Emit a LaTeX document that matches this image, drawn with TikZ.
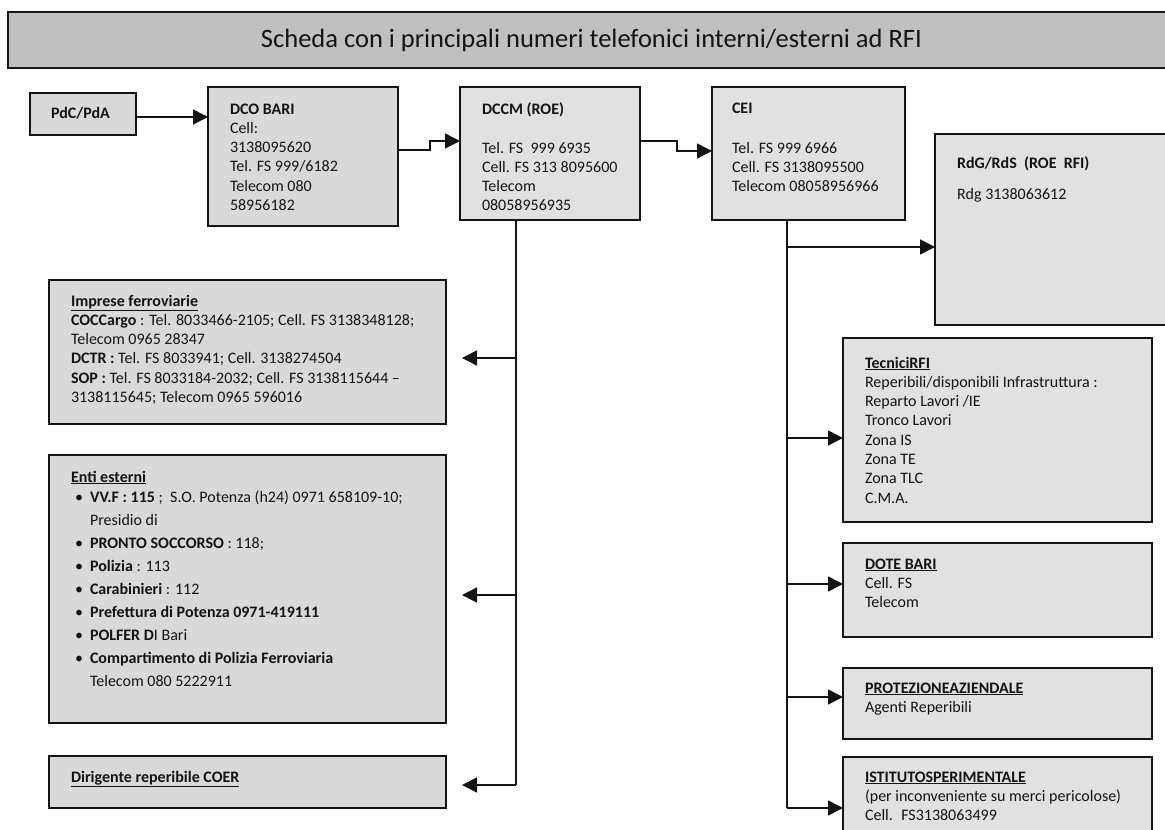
\documentclass[tikz,border=0pt]{standalone}
\usepackage{fontspec}
\setmainfont{Carlito}
\usetikzlibrary{arrows.meta,calc}
\definecolor{titlefill}{RGB}{192,192,192}
\definecolor{boxA}{RGB}{217,217,217}
\definecolor{boxB}{RGB}{225,225,225}
\definecolor{ink}{RGB}{20,20,20}
\newcommand{\mystrut}{\rule{0pt}{13pt}}
\newcommand{\bul}{\hspace*{4pt}\makebox[15pt][l]{\textbullet}}
\newcommand{\ind}{\hspace*{19pt}}
\tikzset{
  box/.style={draw=ink, line width=2pt, anchor=north west, inner sep=0pt, outer sep=0pt},
  txt/.style={anchor=north west, inner sep=0pt, outer sep=0pt, align=left,
    font=\fontsize{16}{19.3}\selectfont, text=ink},
  arr/.style={draw=ink, line width=1.6pt, -{Triangle[length=15pt,width=15pt]}},
  bus/.style={draw=ink, line width=1.6pt},
}
\begin{document}
\begin{tikzpicture}[x=1pt,y=-1pt]
\useasboundingbox (0,0) rectangle (1165,830);
\fill[white] (0,0) rectangle (1165,830);

% title
\node[box, fill=titlefill, minimum width=1200pt, minimum height=56pt] (title) at (8,12) {};
\node[anchor=base, inner sep=0pt, font=\fontsize{26.5}{30}\selectfont, text=ink] (titletxt) at (591.5,47)
  {Scheda con i principali numeri telefonici interni/esterni ad RFI};

% top row boxes
\node[box, fill=boxA, minimum width=106pt, minimum height=42pt] (pdc) at (30,93) {};
\node[txt] (pdct) at (51,105) {\mystrut\textbf{PdC/PdA}};

\node[box, fill=boxA, minimum width=190pt, minimum height=139pt] (dco) at (208,87) {};
\node[txt] (dcot) at (230,101) {\mystrut\textbf{DCO BARI}\\Cell:\\3138095620\\Tel. FS 999/6182\\Telecom 080\\58956182};

\node[box, fill=boxB, minimum width=180pt, minimum height=133pt] (dccm) at (460,87) {};
\node[txt] (dccmt) at (482,101) {\mystrut\textbf{DCCM (ROE)}\\[19.7pt]Tel. FS~ 999 6935\\Cell. FS 313 8095600\\Telecom\\08058956935};

\node[box, fill=boxB, minimum width=193pt, minimum height=133pt] (cei) at (712,87) {};
\node[txt] (ceit) at (732,100) {\mystrut\textbf{CEI}\\[20.7pt]Tel. FS 999 6966\\Cell. FS 3138095500\\Telecom 08058956966};

\node[box, fill=boxB, minimum width=260pt, minimum height=191pt] (rdg) at (935,134) {};
\node[txt] (rdgt) at (957,155) {\mystrut\textbf{RdG/RdS~ (ROE~ RFI)}\\[11.7pt]Rdg 3138063612};

% left column
\node[box, fill=boxA, minimum width=397pt, minimum height=144pt] (imp) at (49,280) {};
\node[txt] (impt) at (71,293) {\mystrut\textbf{\underline{Imprese ferroviarie}}\\
\textbf{COCCargo} : Tel. 8033466-2105; Cell. FS 3138348128;\\
Telecom 0965 28347\\
\textbf{DCTR :} Tel. FS 8033941; Cell. 3138274504\\
\textbf{SOP :} Tel. FS 8033184-2032; Cell. FS 3138115644 –\\
3138115645; Telecom 0965 596016};

\node[box, fill=boxA, minimum width=397pt, minimum height=268pt] (enti) at (49,455) {};
\node[txt] (entit) at (71,469) {\mystrut\textbf{\underline{Enti esterni}}\\[0.7pt]
\bul\textbf{VV.F : 115} ;~ S.O. Potenza (h24) 0971 658109-10;\\[3.7pt]
\ind Presidio di\\[3.7pt]
\bul\textbf{PRONTO SOCCORSO} : 118;\\[3.7pt]
\bul\textbf{Polizia} : 113\\[3.7pt]
\bul\textbf{Carabinieri} : 112\\[3.7pt]
\bul\textbf{Prefettura di Potenza 0971-419111}\\[3.7pt]
\bul\textbf{POLFER D}I Bari\\[3.7pt]
\bul\textbf{Compartimento di Polizia Ferroviaria}\\[3.7pt]
\ind Telecom 080 5222911};

\node[box, fill=boxA, minimum width=397pt, minimum height=52pt] (coer) at (49,756) {};
\node[txt] (coert) at (71,769) {\mystrut\textbf{\underline{Dirigente reperibile COER}}};

% right column
\node[box, fill=boxB, minimum width=309pt, minimum height=184pt] (tec) at (843,338) {};
\node[txt] (tect) at (865,355) {\mystrut\textbf{\underline{TecniciRFI}}\\
Reperibili/disponibili Infrastruttura :\\
Reparto Lavori /IE\\
Tronco Lavori\\
Zona IS\\
Zona TE\\
Zona TLC\\
C.M.A.};

\node[box, fill=boxB, minimum width=309pt, minimum height=94pt] (dote) at (843,543) {};
\node[txt] (dotet) at (865,556) {\mystrut\textbf{\underline{DOTE BARI}}\\Cell. FS\\Telecom};

\node[box, fill=boxB, minimum width=309pt, minimum height=71pt] (prot) at (843,668) {};
\node[txt] (prott) at (865,680) {\mystrut\textbf{\underline{PROTEZIONEAZIENDALE}}\\Agenti Reperibili};

\node[box, fill=boxB, minimum width=309pt, minimum height=100pt] (ist) at (843,757) {};
\node[txt] (istt) at (865,769) {\mystrut\textbf{\underline{ISTITUTOSPERIMENTALE}}\\(per inconveniente su merci pericolose)\\Cell.~ FS3138063499};

% top connectors
\draw[arr] ($(pdc.east)+(0,3)$) coordinate (pa) -- (pa -| dco.west);
\draw[arr] ($(dco.east)+(0,-6.5)$) -- ++(32,0) |- ($(dccm.west)+(0,-12.5)$);
\draw[arr] ($(dccm.east)+(0,-12.5)$) -- ++(37,0) |- ($(cei.west)+(0,-2.5)$);

% left bus from DCCM
\coordinate (l1) at (516,358);
\coordinate (l2) at (516,595);
\coordinate (l3) at (516,785);
\draw[bus] (dccm.south -| l3) -- (l3);
\draw[arr, shorten >=16pt] (l1) -- (l1 -| imp.east);
\draw[arr, shorten >=16pt] (l2) -- (l2 -| enti.east);
\draw[arr, shorten >=16pt] (l3) -- (l3 -| coer.east);

% right bus from CEI
\coordinate (r1) at (787,247);
\coordinate (r2) at (787,438);
\coordinate (r3) at (787,584);
\coordinate (r4) at (787,697);
\coordinate (r5) at (787,808);
\draw[bus] (cei.south -| r5) -- (r5);
\draw[arr] (r1) -- (r1 -| rdg.west);
\draw[arr] (r2) -- (r2 -| tec.west);
\draw[arr] (r3) -- (r3 -| dote.west);
\draw[arr] (r4) -- (r4 -| prot.west);
\draw[arr] (r5) -- (r5 -| ist.west);
\end{tikzpicture}
\end{document}
